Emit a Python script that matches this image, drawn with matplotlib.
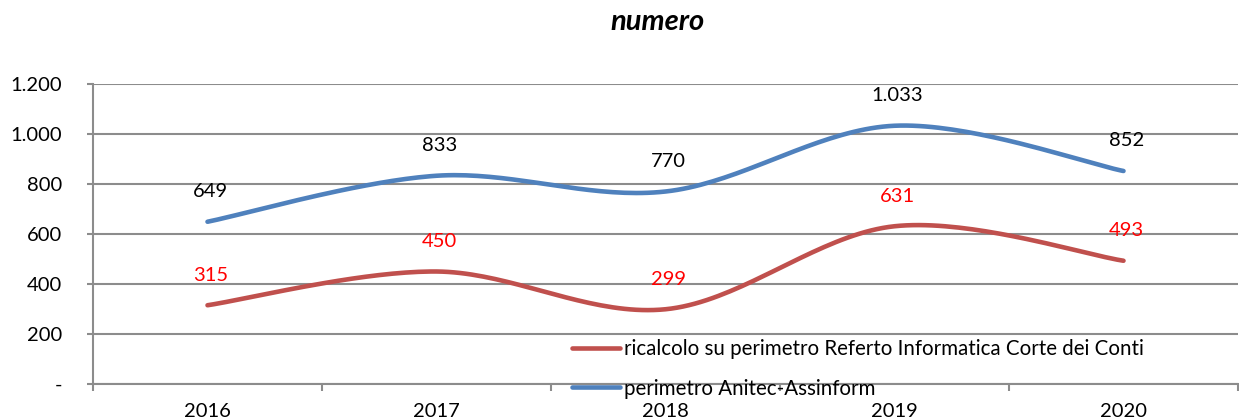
import numpy as np
import matplotlib
matplotlib.use("Agg")
import matplotlib.pyplot as plt
from matplotlib.lines import Line2D

years = ["2016", "2017", "2018", "2019", "2020"]
anitec = [649, 833, 770, 1033, 852]
corte = [315, 450, 299, 631, 493]
yticks = [0, 200, 400, 600, 800, 1000, 1200]
ytick_labels = ["-", "200", "400", "600", "800", "1.000", "1.200"]
label_anitec = "perimetro Anitec-Assinform"
label_corte = "ricalcolo su perimetro Referto Informatica Corte dei Conti"
title = "numero"

BLUE = "#4F81BD"
RED = "#C0504D"
GRID = "#8C8C8C"
FS = 14.5

plt.rcParams["font.family"] = ["Lato", "DejaVu Sans"]


def smooth(xs, ys, n=40):
    # Excel-like smoothed line: cubic Bezier with Catmull-Rom control points
    xs = np.asarray(xs, float)
    ys = np.asarray(ys, float)
    px, py = [], []
    m = len(xs)
    for i in range(m - 1):
        x0, y0 = (xs[i - 1], ys[i - 1]) if i > 0 else (xs[i], ys[i])
        x1, y1 = xs[i], ys[i]
        x2, y2 = xs[i + 1], ys[i + 1]
        x3, y3 = (xs[i + 2], ys[i + 2]) if i + 2 < m else (xs[i + 1], ys[i + 1])
        c1x, c1y = x1 + (x2 - x0) / 6, y1 + (y2 - y0) / 6
        c2x, c2y = x2 - (x3 - x1) / 6, y2 - (y3 - y1) / 6
        t = np.linspace(0, 1, n)
        bx = (1 - t) ** 3 * x1 + 3 * (1 - t) ** 2 * t * c1x + 3 * (1 - t) * t ** 2 * c2x + t ** 3 * x2
        by = (1 - t) ** 3 * y1 + 3 * (1 - t) ** 2 * t * c1y + 3 * (1 - t) * t ** 2 * c2y + t ** 3 * y2
        px.extend(bx if i == 0 else bx[1:])
        py.extend(by if i == 0 else by[1:])
    return np.array(px), np.array(py)


fig = plt.figure(figsize=(12.39, 4.2), dpi=100)
ax = fig.add_axes([93 / 1239, 1 - 384 / 420, (1238 - 93) / 1239, 300 / 420])

x = np.arange(len(years))
for vals, col in [(anitec, BLUE), (corte, RED)]:
    sx, sy = smooth(x, vals)
    ax.plot(sx, sy, color=col, lw=3.3, solid_capstyle="round", zorder=3)


def fmt(v):
    return str(v) if v < 1000 else f"{v // 1000}.{v % 1000:03d}"


for xi, v in zip(x, anitec):
    ax.annotate(fmt(v), (xi, v), xytext=(3, 30), textcoords="offset pixels",
                ha="center", va="center", fontsize=FS, color="black")
for xi, v in zip(x, corte):
    ax.annotate(fmt(v), (xi, v), xytext=(3, 30), textcoords="offset pixels",
                ha="center", va="center", fontsize=FS, color="#FF0000")

ax.set_xlim(-0.5, len(years) - 0.5)
ax.set_ylim(0, 1200)
ax.set_yticks(yticks)
ax.set_yticklabels(ytick_labels, fontsize=FS)
ax.set_xticks(x)
ax.set_xticklabels(years, fontsize=FS)
ax.set_xticks(np.arange(-0.5, len(years)), minor=True)
ax.tick_params(axis="x", which="major", length=0, pad=13.5)
ax.tick_params(axis="x", which="minor", length=5, width=1.5, color=GRID, direction="out")
ax.tick_params(axis="y", length=4.5, width=1.5, color=GRID, pad=18)

ax.grid(axis="y", color=GRID, lw=1.5, zorder=0)
ax.set_axisbelow(True)
for s in ["top", "right"]:
    ax.spines[s].set_visible(False)
for s in ["left", "bottom"]:
    ax.spines[s].set_color(GRID)
    ax.spines[s].set_linewidth(1.5)
ax.spines["bottom"].set_zorder(5)

handles = [Line2D([], [], color=RED, lw=3.3, solid_capstyle="round"),
           Line2D([], [], color=BLUE, lw=3.3, solid_capstyle="round")]
leg = fig.legend(handles, [label_corte, label_anitec], loc="upper left",
                 bbox_to_anchor=(572 / 1239, 1 - 339 / 420), frameon=False,
                 fontsize=14.8, handlelength=2.35, handletextpad=0.2, labelspacing=0.95,
                 borderaxespad=0, borderpad=0)
leg.set_zorder(2)

fig.text(658 / 1239, 1 - 22 / 420, title, ha="center", va="center",
         fontsize=21, fontweight="bold", fontstyle="italic")

fig.savefig("out.png", dpi=100)
